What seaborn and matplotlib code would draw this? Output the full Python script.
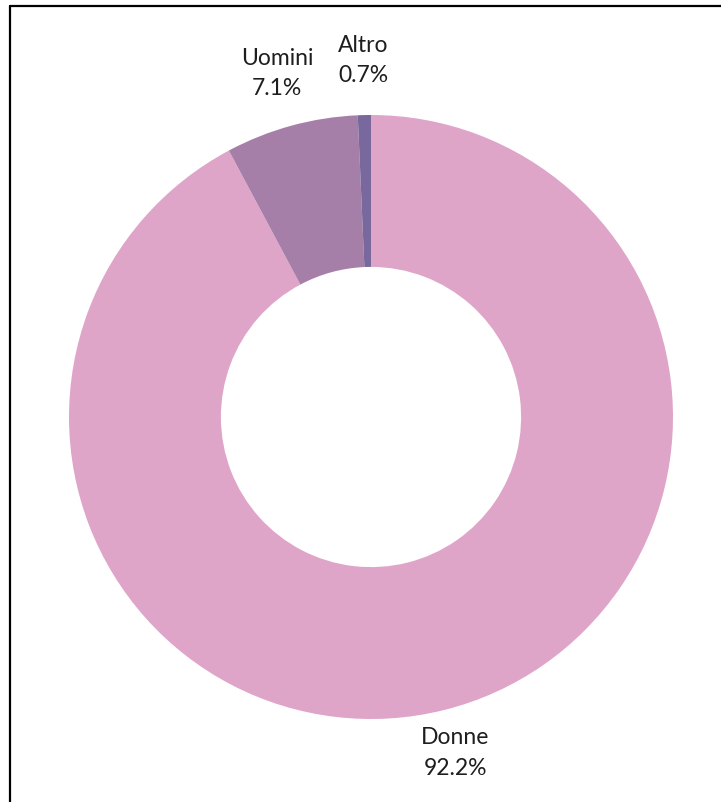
import numpy as np
import matplotlib
matplotlib.use("Agg")
import matplotlib.pyplot as plt
from matplotlib.lines import Line2D
import seaborn as sns

# Gender breakdown of respondents
categories = ["Donne", "Uomini", "Altro"]
shares = [92.2, 7.1, 0.7]
labels = ["Donne\n92.2%", "Uomini\n7.1%", "Altro\n0.7%"]

sns.set_theme(style="white")
plt.rcParams["font.family"] = ["Lato", "DejaVu Sans"]

palette = sns.color_palette(["#dfa5c9", "#a67fa8", "#78689e"])

fig = plt.figure(figsize=(7.21, 8.02), dpi=100)
ax = fig.add_axes([69 / 721, 83 / 802, 604 / 721, 604 / 802])

wedges, _ = ax.pie(
    shares,
    colors=palette,
    startangle=90,
    counterclock=False,
    radius=1.0,
    wedgeprops=dict(width=0.503, linewidth=0),
)
ax.set_xlim(-1, 1)
ax.set_ylim(-1, 1)
ax.set_aspect("equal")
ax.axis("off")

# Labels outside the ring, placed along each wedge's mid-angle
label_dist = [1.147, 1.18, 1.18]
for w, text, d in zip(wedges, labels, label_dist):
    mid = np.deg2rad((w.theta1 + w.theta2) / 2)
    ax.text(d * np.cos(mid), d * np.sin(mid), text,
            ha="center", va="center", fontsize=16.5, color="#1e1e1e",
            linespacing=1.55)

# Frame lines along the top and left edges
fig.add_artist(Line2D([10 / 721, 1.0], [1 - 6 / 802, 1 - 6 / 802],
                      transform=fig.transFigure, color="black", lw=1.6))
fig.add_artist(Line2D([10 / 721, 10 / 721], [0.0, 1 - 6 / 802],
                      transform=fig.transFigure, color="black", lw=1.6))

fig.savefig("out.png", dpi=100, facecolor="white")
